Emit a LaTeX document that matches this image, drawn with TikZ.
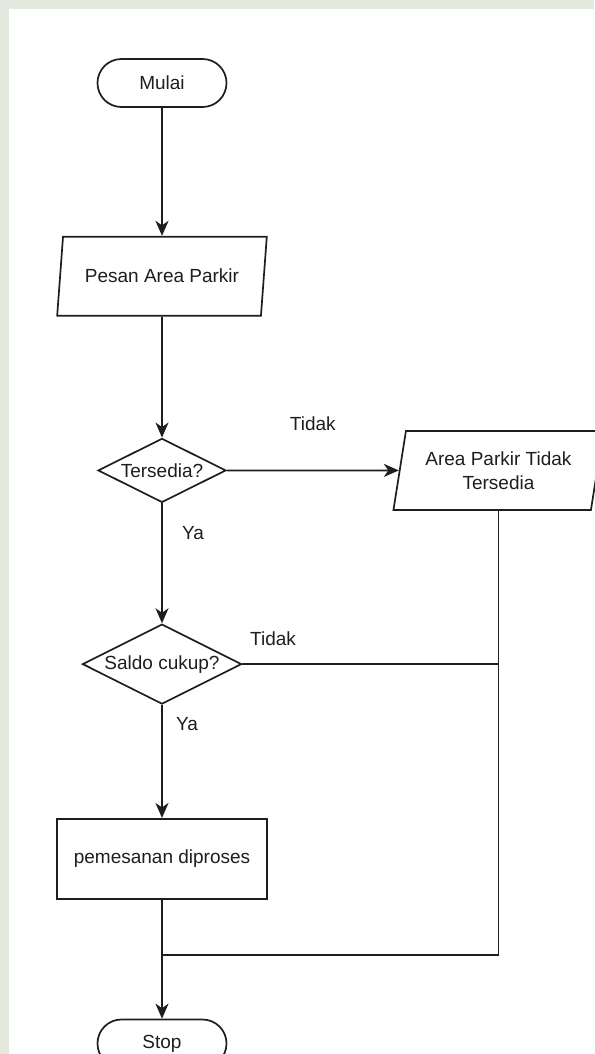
\documentclass[tikz,border=0pt]{standalone}
\usepackage{fontspec}
\setmainfont{Liberation Sans}
\usetikzlibrary{shapes.geometric, arrows.meta, positioning}
\definecolor{margin}{RGB}{228,233,222}
\definecolor{ink}{RGB}{30,30,30}

\begin{document}
\begin{tikzpicture}[
  x=1pt, y=-1pt,
  font=\fontsize{19pt}{24pt}\selectfont,
  every node/.style={text=ink},
  terminal/.style={rectangle, draw=ink, line width=1.7pt, minimum width=129pt, minimum height=48pt, rounded corners=23.9pt, align=center},
  io/.style={trapezium, trapezium left angle=77, trapezium right angle=103, trapezium stretches=true, draw=ink, line width=1.7pt, minimum width=210pt, minimum height=79pt, align=center},
  decision/.style={diamond, draw=ink, line width=1.7pt, aspect=2, inner sep=0pt},
  process/.style={rectangle, draw=ink, line width=1.7pt, minimum width=210pt, minimum height=80pt, align=center},
  arrow/.style={draw=ink, -{Stealth[length=15pt, width=13pt, inset=4.5pt]}, line width=1.7pt},
  line/.style={draw=ink, line width=1.7pt}
]
\useasboundingbox (0,0) rectangle (594,1054);
\fill[margin] (0,0) rectangle (594,1054);
\fill[white] (9,9) rectangle (594,1054);

% Nodes
\node (mulai) [terminal] at (162,83) {Mulai};
\node (pesan) [io, below=128pt of mulai] {Pesan Area Parkir};
\node (tersedia) [decision, minimum width=128pt, minimum height=64pt, below=121pt of pesan] {Tersedia?};
\node (area) [io, right=172pt of tersedia] {Area Parkir Tidak\\Tersedia};
\node (saldo) [decision, minimum width=159pt, minimum height=80pt, below=120pt of tersedia] {Saldo cukup?};
\node (proses) [process, below=113pt of saldo] {pemesanan diproses};
\node (stop) [terminal, below=119pt of proses] {Stop};
\coordinate [below=55pt of proses] (gabung);

% Arrows
\draw [arrow] (mulai) -- (pesan);
\draw [arrow] (pesan) -- (tersedia);
\draw [arrow] (tersedia) -- node (tidaka) [yshift=47pt] {Tidak} (area);
\draw [arrow] (tersedia) -- node (yaa) [pos=0.25, xshift=31pt] {Ya} (saldo);
\draw [line] (saldo.east) -- node (tidakb) [pos=0.12, yshift=25pt] {Tidak} (saldo.east -| area.center);
\draw [arrow] (saldo) -- node (yab) [pos=0.17, xshift=25pt] {Ya} (proses);
\draw [line] (area.south -| area.center) -- (gabung -| area.center) -- (gabung);
\draw [arrow] (proses) -- (stop);

\end{tikzpicture}
\end{document}
